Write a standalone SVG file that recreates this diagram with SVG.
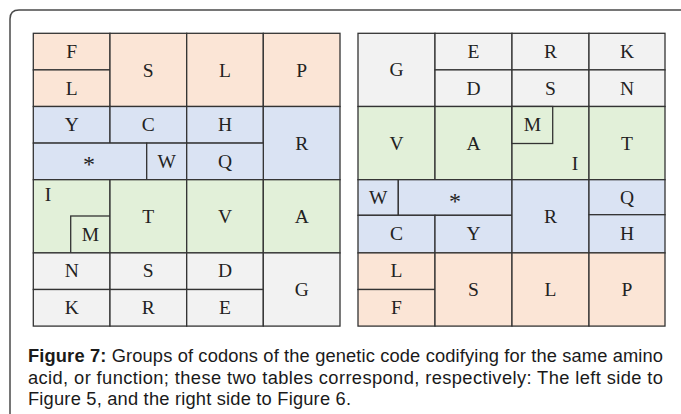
<svg xmlns="http://www.w3.org/2000/svg" width="681" height="414" viewBox="0 0 681 414">
  <style>
    .frame { fill: none; stroke: #4a4a4a; stroke-width: 1.5; }
    .c { stroke: #333; stroke-width: 1.3; }
    .or { fill: #fbe5d6; }
    .bl { fill: #dae3f3; }
    .gr { fill: #e2f0d9; }
    .gy { fill: #f2f2f2; }
    .t { font-family: "Liberation Serif", "Times New Roman", serif; font-size: 19.5px; fill: #222; text-anchor: middle; }
    .star { font-size: 24px; }
    .cap { font-family: "Liberation Sans", Arial, sans-serif; font-size: 18.3px; fill: #1a1a1a; }
    .b { font-weight: bold; }
  </style>

  <rect width="681" height="414" fill="#ffffff"/>
  <!-- outer figure frame, open to the right and bottom -->
  <path class="frame" d="M10,430 V19 Q10,10 19,10 H690"/>

  <!-- left table -->
  <g id="left-table">
    <g id="L-F"><rect class="c or" x="33.3" y="33.3" width="76.7" height="36.6"/><text class="t" x="71.7" y="57.8">F</text></g>
    <g id="L-L1"><rect class="c or" x="33.3" y="69.9" width="76.7" height="36.6"/><text class="t" x="71.7" y="94.8">L</text></g>
    <g id="L-S1"><rect class="c or" x="110" y="33.3" width="76.7" height="73.2"/><text class="t" x="148.3" y="76.8">S</text></g>
    <g id="L-L2"><rect class="c or" x="186.7" y="33.3" width="76.6" height="73.2"/><text class="t" x="225" y="76.8">L</text></g>
    <g id="L-P"><rect class="c or" x="263.3" y="33.3" width="76.7" height="73.2"/><text class="t" x="301.7" y="76.8">P</text></g>

    <g id="L-Y"><rect class="c bl" x="33.3" y="106.5" width="76.7" height="36.6"/><text class="t" x="71.7" y="131.3">Y</text></g>
    <g id="L-C"><rect class="c bl" x="110" y="106.5" width="76.7" height="36.6"/><text class="t" x="148.3" y="131.3">C</text></g>
    <g id="L-H"><rect class="c bl" x="186.7" y="106.5" width="76.6" height="36.6"/><text class="t" x="225" y="131.3">H</text></g>
    <g id="L-R1"><rect class="c bl" x="263.3" y="106.5" width="76.7" height="73.2"/><text class="t" x="301.7" y="150.3">R</text></g>
    <g id="L-stop"><rect class="c bl" x="33.3" y="143.1" width="113.4" height="36.6"/><text class="t star" x="89" y="172">*</text></g>
    <g id="L-W"><rect class="c bl" x="146.7" y="143.1" width="40" height="36.6"/><text class="t" x="166.7" y="167.8">W</text></g>
    <g id="L-Q"><rect class="c bl" x="186.7" y="143.1" width="76.6" height="36.6"/><text class="t" x="225" y="167.8">Q</text></g>

    <g id="L-I"><rect class="c gr" x="33.3" y="179.7" width="76.7" height="73.2"/><text class="t" x="48" y="201.3">I</text></g>
    <g id="L-M"><rect class="c gr" x="70.7" y="216" width="39.3" height="36.9"/><text class="t" x="90.3" y="240.8">M</text></g>
    <g id="L-T"><rect class="c gr" x="110" y="179.7" width="76.7" height="73.2"/><text class="t" x="148.3" y="223.3">T</text></g>
    <g id="L-V"><rect class="c gr" x="186.7" y="179.7" width="76.6" height="73.2"/><text class="t" x="225" y="223.3">V</text></g>
    <g id="L-A"><rect class="c gr" x="263.3" y="179.7" width="76.7" height="73.2"/><text class="t" x="301.7" y="223.3">A</text></g>

    <g id="L-N"><rect class="c gy" x="33.3" y="252.9" width="76.7" height="36.6"/><text class="t" x="71.7" y="277.3">N</text></g>
    <g id="L-S2"><rect class="c gy" x="110" y="252.9" width="76.7" height="36.6"/><text class="t" x="148.3" y="277.3">S</text></g>
    <g id="L-D"><rect class="c gy" x="186.7" y="252.9" width="76.6" height="36.6"/><text class="t" x="225" y="277.3">D</text></g>
    <g id="L-K"><rect class="c gy" x="33.3" y="289.5" width="76.7" height="36.6"/><text class="t" x="71.7" y="313.8">K</text></g>
    <g id="L-R2"><rect class="c gy" x="110" y="289.5" width="76.7" height="36.6"/><text class="t" x="148.3" y="313.8">R</text></g>
    <g id="L-E"><rect class="c gy" x="186.7" y="289.5" width="76.6" height="36.6"/><text class="t" x="225" y="313.8">E</text></g>
    <g id="L-G"><rect class="c gy" x="263.3" y="252.9" width="76.7" height="73.2"/><text class="t" x="301.7" y="296.3">G</text></g>
  </g>

  <!-- right table -->
  <g id="right-table">
    <g id="R-G"><rect class="c gy" x="358" y="33.3" width="77" height="73.2"/><text class="t" x="396.5" y="76.3">G</text></g>
    <g id="R-E"><rect class="c gy" x="435" y="33.3" width="77" height="36.6"/><text class="t" x="473.5" y="57.8">E</text></g>
    <g id="R-D"><rect class="c gy" x="435" y="69.9" width="77" height="36.6"/><text class="t" x="473.5" y="94.8">D</text></g>
    <g id="R-R1"><rect class="c gy" x="512" y="33.3" width="77" height="36.6"/><text class="t" x="550.5" y="57.8">R</text></g>
    <g id="R-S1"><rect class="c gy" x="512" y="69.9" width="77" height="36.6"/><text class="t" x="550.5" y="94.8">S</text></g>
    <g id="R-K"><rect class="c gy" x="589" y="33.3" width="76" height="36.6"/><text class="t" x="627" y="57.8">K</text></g>
    <g id="R-N"><rect class="c gy" x="589" y="69.9" width="76" height="36.6"/><text class="t" x="627" y="94.8">N</text></g>

    <g id="R-V"><rect class="c gr" x="358" y="106.5" width="77" height="73.2"/><text class="t" x="396.5" y="150.3">V</text></g>
    <g id="R-A"><rect class="c gr" x="435" y="106.5" width="77" height="73.2"/><text class="t" x="473.5" y="150.3">A</text></g>
    <g id="R-I"><rect class="c gr" x="512" y="106.5" width="77" height="73.2"/><text class="t" x="575" y="170.3">I</text></g>
    <g id="R-M"><rect class="c gr" x="512" y="106.5" width="40.7" height="37"/><text class="t" x="532.5" y="130.8">M</text></g>
    <g id="R-T"><rect class="c gr" x="589" y="106.5" width="76" height="73.2"/><text class="t" x="627" y="150.3">T</text></g>

    <g id="R-W"><rect class="c bl" x="358" y="179.7" width="40.3" height="35.6"/><text class="t" x="378.2" y="204.3">W</text></g>
    <g id="R-stop"><rect class="c bl" x="398.3" y="179.7" width="113.7" height="35.6"/><text class="t star" x="455" y="209">*</text></g>
    <g id="R-C"><rect class="c bl" x="358" y="215.3" width="77" height="37.6"/><text class="t" x="396.5" y="240.3">C</text></g>
    <g id="R-Y"><rect class="c bl" x="435" y="215.3" width="77" height="37.6"/><text class="t" x="473.5" y="240.3">Y</text></g>
    <g id="R-R2"><rect class="c bl" x="512" y="179.7" width="77" height="73.2"/><text class="t" x="550.5" y="223.3">R</text></g>
    <g id="R-Q"><rect class="c bl" x="589" y="179.7" width="76" height="35"/><text class="t" x="627" y="204.3">Q</text></g>
    <g id="R-H"><rect class="c bl" x="589" y="214.7" width="76" height="38.2"/><text class="t" x="627" y="240.3">H</text></g>

    <g id="R-L1"><rect class="c or" x="358" y="252.9" width="77" height="36.6"/><text class="t" x="396.5" y="277.3">L</text></g>
    <g id="R-F"><rect class="c or" x="358" y="289.5" width="77" height="36.6"/><text class="t" x="396.5" y="313.8">F</text></g>
    <g id="R-S2"><rect class="c or" x="435" y="252.9" width="77" height="73.2"/><text class="t" x="473.5" y="296.3">S</text></g>
    <g id="R-L2"><rect class="c or" x="512" y="252.9" width="77" height="73.2"/><text class="t" x="550.5" y="296.3">L</text></g>
    <g id="R-P"><rect class="c or" x="589" y="252.9" width="76" height="73.2"/><text class="t" x="627" y="296.3">P</text></g>
  </g>

  <!-- caption -->
  <g id="caption">
    <text class="cap" x="28" y="362" textLength="635" lengthAdjust="spacing"><tspan class="b">Figure 7:</tspan> Groups of codons of the genetic code codifying for the same amino</text>
    <text class="cap" x="28" y="383.5" textLength="635" lengthAdjust="spacing">acid, or function; these two tables correspond, respectively: The left side to</text>
    <text class="cap" x="28" y="405" textLength="323" lengthAdjust="spacing">Figure 5, and the right side to Figure 6.</text>
  </g>
</svg>
